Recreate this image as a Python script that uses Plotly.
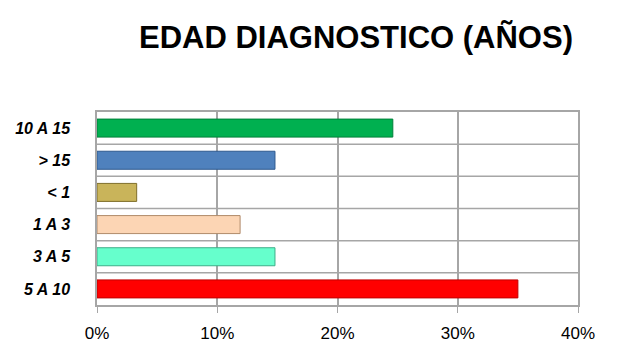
import plotly.graph_objects as go

categories = ["10 A 15", "> 15", "< 1", "1 A 3", "3 A 5", "5 A 10"]
values = [24.6, 14.8, 3.3, 11.9, 14.8, 35.0]
colors = ["#00B050", "#4F81BD", "#C9B45A", "#FCD5B4", "#66FFCC", "#FF0000"]
edge_colors = ["#00803A", "#2F5A8F", "#7F6E2A", "#B08A6A", "#3CAF88", "#C00000"]
x_ticks = [0, 10, 20, 30, 40]
x_tick_labels = ["0%", "10%", "20%", "30%", "40%"]

fig = go.Figure()
fig.add_trace(go.Bar(
    y=categories,
    x=values,
    orientation="h",
    marker=dict(color=colors, line=dict(color=edge_colors, width=1)),
    width=0.56,
    hoverinfo="x+y",
))

fig.update_layout(
    width=617, height=353,
    margin=dict(l=89, r=47, t=104, b=56),
    paper_bgcolor="white", plot_bgcolor="white",
    showlegend=False,
    title=dict(text="<b>EDAD DIAGNOSTICO (AÑOS)</b>", x=0.564, xanchor="center",
               y=0.918, yanchor="middle",
               font=dict(family="Liberation Sans", size=31, color="black")),
    xaxis=dict(range=[0, 40], tickvals=x_ticks, ticktext=x_tick_labels,
               showgrid=True, gridcolor="#A6A6A6", gridwidth=1.5,
               showline=True, linecolor="#A6A6A6", linewidth=1.5, mirror=True,
               ticks="outside", ticklen=6, tickcolor="#A6A6A6",
               ticklabelstandoff=6, automargin=False,
               tickfont=dict(family="Liberation Sans", size=17, color="black"),
               zeroline=False),
    yaxis=dict(categoryorder="array", categoryarray=categories[::-1],
               showgrid=False, automargin=False,
               showline=True, linecolor="#A6A6A6", linewidth=1.5, mirror=True,
               ticks="", ticklabelstandoff=22,
               tickfont=dict(family="Liberation Sans", size=16, color="black",
                             weight="bold", style="italic")),
    bargap=0.44,
)

# horizontal gridlines between categories
for i in range(1, len(categories)):
    fig.add_shape(type="line", xref="paper", yref="y", x0=0, x1=1,
                  y0=i - 0.5, y1=i - 0.5,
                  line=dict(color="#A6A6A6", width=1.5), layer="below")

fig.write_html("out.html")
